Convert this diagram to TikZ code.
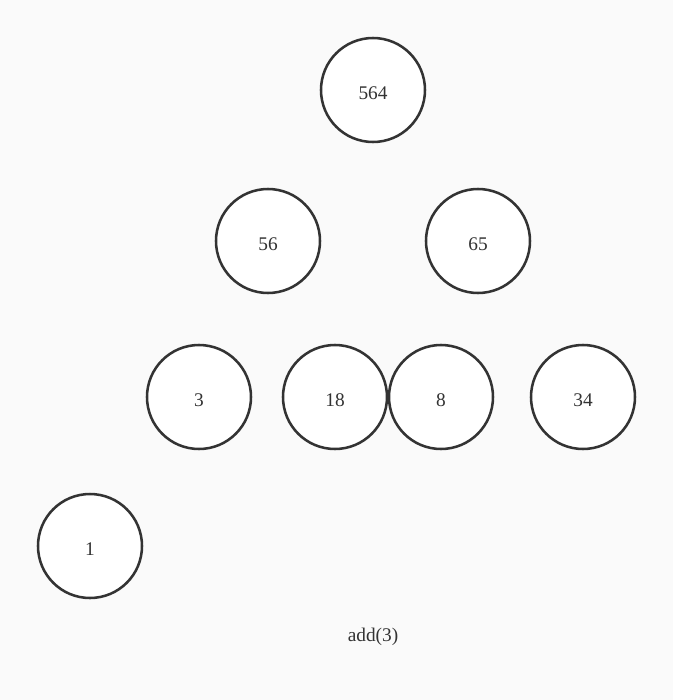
\documentclass[tikz,border=0pt]{standalone}
\usepackage{fontspec}
\setmainfont{Liberation Serif}
\usepackage{tikz}
\usetikzlibrary{positioning}
\definecolor{heapgray}{RGB}{51,51,51}
\definecolor{heapbg}{RGB}{250,250,250}

\begin{document}
\begin{tikzpicture}[
  x=0.75pt, y=-0.75pt,
  heapnode/.style={circle, draw=heapgray, line width=1.9pt, fill=white, minimum size=78pt, inner sep=0pt, text height=13.5pt, text depth=0pt, font=\fontsize{14.5}{17}\selectfont, text=heapgray},
  caption/.style={font=\fontsize{14.5}{17}\selectfont, text=heapgray}
]
  \fill[heapbg] (0,0) rectangle (673,700);
  \useasboundingbox (0,0) rectangle (673,700);

  \node[heapnode] (root) at (373,90) {564};
  \node[heapnode] (left) at (268,241) {56};
  \node[heapnode] (right) at (478,241) {65};
  \node[heapnode] (ll) at (199,397) {3};
  \node[heapnode] (lr) at (335,397) {18};
  \node[heapnode] (rl) at (441,397) {8};
  \node[heapnode] (rr) at (583,397) {34};
  \node[heapnode] (lll) at (90,546) {1};

  \node[caption] (op) at (373,637) {add(3)};
\end{tikzpicture}
\end{document}
